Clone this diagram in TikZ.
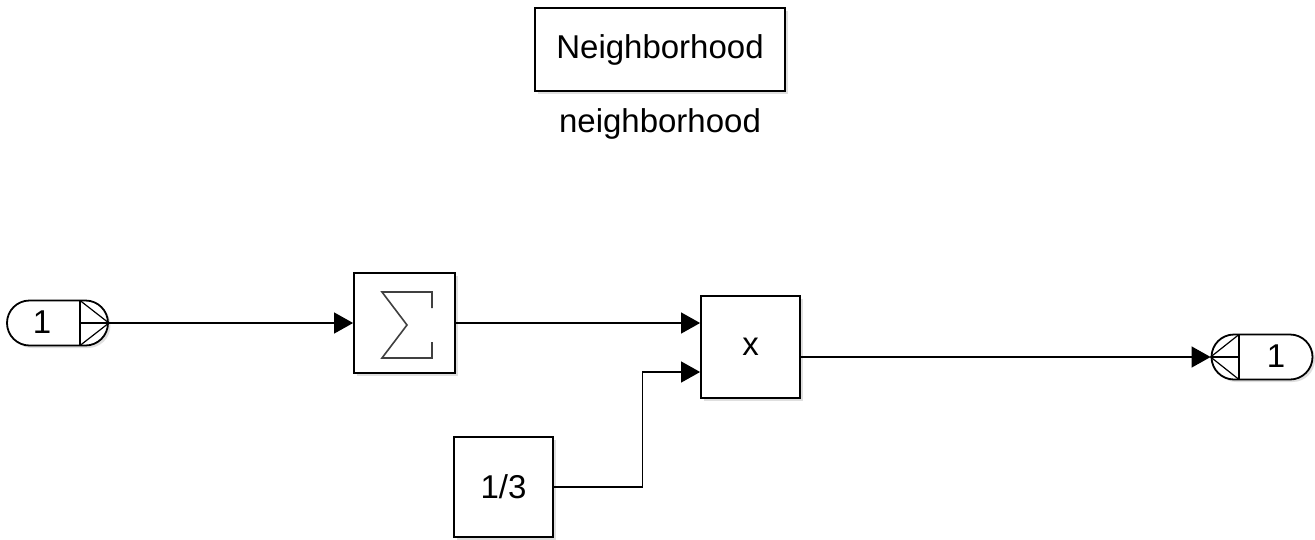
\documentclass[tikz,border=0pt]{standalone}
\usepackage{fontspec}
\setmainfont{Liberation Sans}
\usetikzlibrary{arrows.meta,shapes.misc,shadows,calc}
\begin{document}
\begin{tikzpicture}[x=1pt,y=-1pt,
  blk/.style={draw,line width=1.8pt,fill=white,inner sep=0pt,
    drop shadow={shadow xshift=2.5pt,shadow yshift=-2.5pt,fill=black!25}},
  port/.style={blk,rounded rectangle,minimum width=101pt,minimum height=45pt},
  txt/.style={font=\fontsize{33}{39}\selectfont},
  conn/.style={line width=1.2pt,-{Triangle[length=19pt,width=21pt]}},
  plain/.style={line width=1.2pt}]
\useasboundingbox (0,0) rectangle (1315,539);
% blocks
\node[blk,minimum width=250pt,minimum height=83pt,txt] (nb) at (660,49.5) {Neighborhood};
\node[txt] (nbl) at (660,124) {neighborhood};
\node[port] (in) at (57.5,323) {};
\node[blk,minimum width=101pt,minimum height=100pt] (sum) at (404.5,323) {};
\node[blk,minimum width=99pt,minimum height=102pt,txt] (prod) at (750.5,347) {x};
\node[blk,minimum width=99pt,minimum height=100pt,txt] (c) at (503.5,487) {1/3};
\node[port] (out) at (1262,357) {};
% inport decorations
\node[txt] (inl) at (42,322) {1};
\draw[line width=1.5pt] (80,300.5) -- (80,345.5);
\draw[line width=1.2pt] (80,300.5) -- (in.east) -- (80,345.5);
\draw[line width=1.2pt] (80,323) -- (in.east);
% outport decorations
\node[txt] (outl) at (1276,356) {1};
\draw[line width=1.5pt] (1239,334.5) -- (1239,379.5);
\draw[line width=1.2pt] (1239,334.5) -- (out.west) -- (1239,379.5);
\draw[line width=1.2pt] (1239,357) -- (out.west);
% sigma
\draw[line width=1.6pt,black!75,line join=miter]
  ($(sum.center)+(27.5,-15)$) -- ($(sum.center)+(27.5,-31)$) -- ($(sum.center)+(-22.5,-31)$)
  -- ($(sum.center)+(2.5,2)$) -- ($(sum.center)+(-22.5,35)$) -- ($(sum.center)+(27.5,35)$)
  -- ($(sum.center)+(27.5,19)$);
% connectors
\coordinate (p1) at ($(prod.west)+(0,-25)$);
\coordinate (p2) at ($(prod.west)+(0,25)$);
\coordinate (po) at ($(prod.east)+(0,10)$);
\draw[conn] (in.east) -- (sum.west);
\draw[conn] (sum.east) -- (sum.east -| p1);
\draw[conn] (c.east) -- ++(88.5,0) |- (p2);
\draw[conn] (po) -- (out.west);
\end{tikzpicture}
\end{document}
